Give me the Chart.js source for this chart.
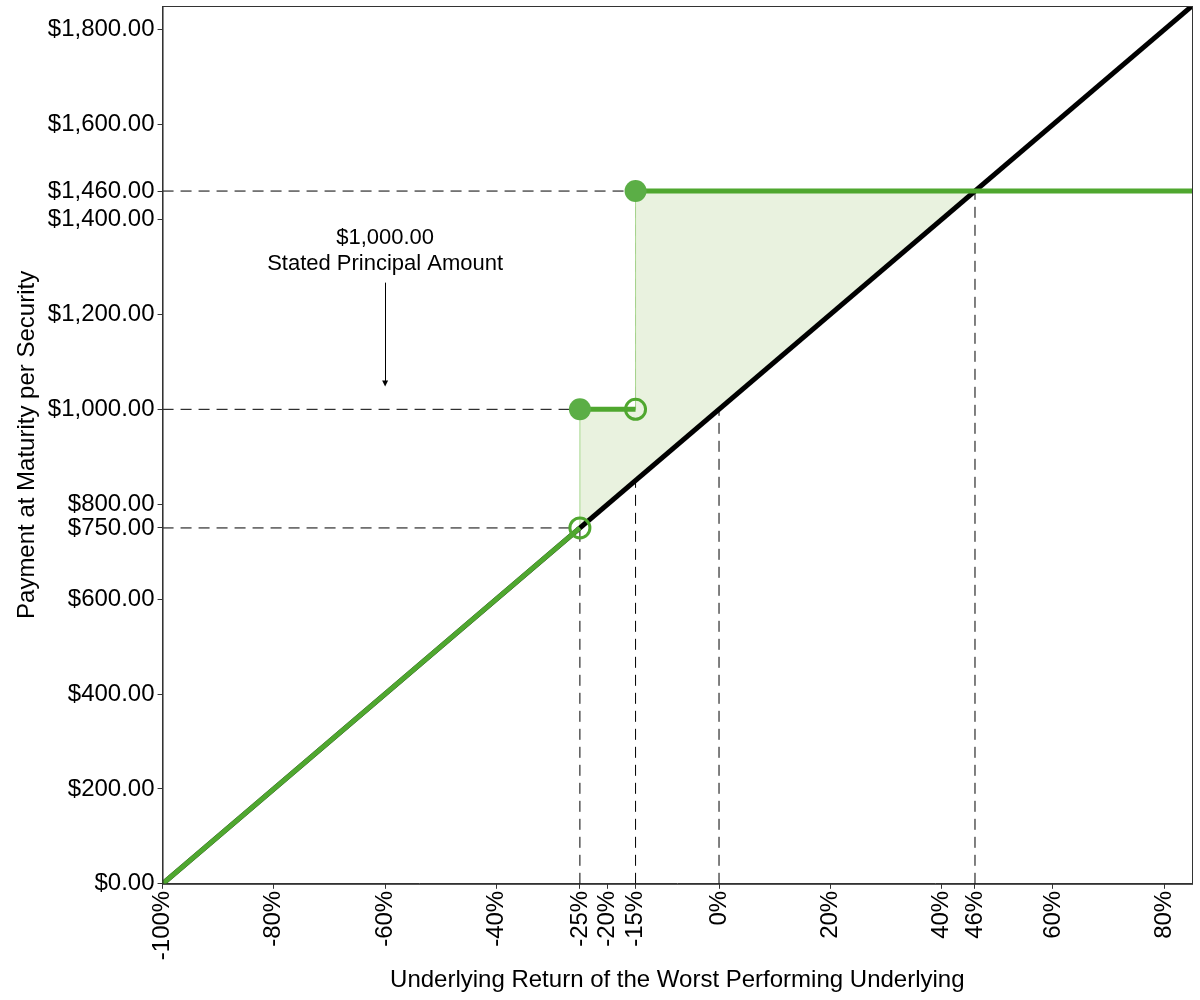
<!DOCTYPE html>
<html>
<head>
<meta charset="utf-8">
<script src="https://cdn.jsdelivr.net/npm/chart.js@4.4.1/dist/chart.umd.min.js"></script>
<style>
  html, body { margin: 0; padding: 0; background: #fff; }
  #wrap { width: 1200px; height: 1000px; }
</style>
</head>
<body>
<div id="wrap"><canvas id="payoffChart" width="1200" height="1000"></canvas></div>
<script>
// tick positions
const xTicks = [-100, -80, -60, -40, -25, -20, -15, 0, 20, 40, 46, 60, 80];
const yTicks = [0, 200, 400, 600, 750, 800, 1000, 1200, 1400, 1460, 1600, 1800];

// underlying (black) line
const underlyingX = [-100, 85];
const underlyingY = [0, 1850];

// security payoff pieces
const lowerX = [-100, -25];
const lowerY = [0, 750];
const stepX = [-25, -15];
const stepY = [1000, 1000];
const capX = [-15, 85];
const capY = [1460, 1460];

// end points
const filledX = [-25, -15];
const filledY = [1000, 1460];
const openX = [-25, -15];
const openY = [750, 1000];

// shaded outperformance area
const areaX = [-25, -25, -15, -15, 46, -25];
const areaY = [750, 1000, 1000, 1460, 1460, 750];

// dashed guides: [x1, y1, x2, y2]
const guideLines = [
  [-100, 1460, -15, 1460],
  [-100, 1000, 0, 1000],
  [-100, 750, -25, 750],
  [-25, 0, -25, 750],
  [-15, 0, -15, 1460],
  [0, 0, 0, 1000],
  [46, 0, 46, 1460]
];

// annotation
const noteX = -60;
const noteLines = ['$1,000.00', 'Stated Principal Amount'];
const noteLineY = [1362, 1307];
const arrowY = [1267, 1048];

const green = '#4fa72f';
const greenDot = '#5bae46';
const fontFamily = '"Liberation Sans", Arial, sans-serif';

function pts(xs, ys) {
  return xs.map((x, i) => ({x: x, y: ys[i]}));
}

const guideSets = guideLines.map((g) => ({
  data: [{x: g[0], y: g[1]}, {x: g[2], y: g[3]}],
  borderColor: '#000',
  borderWidth: 1,
  borderDash: [11, 7],
  pointRadius: 0,
  showLine: true,
  order: 5
}));

const frameAndNote = {
  id: 'frameAndNote',
  afterDatasetsDraw(chart) {
    const ctx = chart.ctx;
    const a = chart.chartArea;
    const xs = chart.scales.x, ys = chart.scales.y;
    ctx.save();
    ctx.strokeStyle = '#333';
    ctx.lineWidth = 1;
    ctx.strokeRect(a.left + 0.5, a.top + 0.5, a.right - a.left, a.bottom - a.top);

    const px = xs.getPixelForValue(noteX);
    ctx.fillStyle = '#000';
    ctx.font = '22px ' + fontFamily;
    ctx.textAlign = 'center';
    ctx.textBaseline = 'middle';
    noteLines.forEach((t, i) => ctx.fillText(t, px, ys.getPixelForValue(noteLineY[i])));

    const y1 = ys.getPixelForValue(arrowY[0]);
    const y2 = ys.getPixelForValue(arrowY[1]);
    ctx.strokeStyle = '#000';
    ctx.beginPath();
    ctx.moveTo(Math.round(px) + 0.5, y1);
    ctx.lineTo(Math.round(px) + 0.5, y2 - 4);
    ctx.stroke();
    ctx.beginPath();
    ctx.moveTo(px - 3, y2 - 6);
    ctx.lineTo(px + 3, y2 - 6);
    ctx.lineTo(px, y2);
    ctx.closePath();
    ctx.fill();
    ctx.restore();
  }
};

new Chart(document.getElementById('payoffChart'), {
  type: 'scatter',
  data: {
    datasets: [
      {
        data: pts(filledX, filledY),
        backgroundColor: greenDot,
        borderColor: greenDot,
        pointRadius: 11,
        pointBorderWidth: 0,
        showLine: false,
        order: 0
      },
      {
        data: pts(openX, openY),
        backgroundColor: 'rgba(0,0,0,0)',
        borderColor: green,
        pointRadius: 10,
        pointBorderWidth: 3,
        showLine: false,
        order: 0
      },
      {
        data: pts(capX, capY),
        borderColor: green,
        borderWidth: 5,
        pointRadius: 0,
        showLine: true,
        order: 1
      },
      {
        data: pts(stepX, stepY),
        borderColor: green,
        borderWidth: 5,
        pointRadius: 0,
        showLine: true,
        order: 1
      },
      {
        data: pts(lowerX, lowerY),
        borderColor: green,
        borderWidth: 5,
        pointRadius: 0,
        showLine: true,
        order: 1
      },
      {
        data: pts(underlyingX, underlyingY),
        borderColor: '#000',
        borderWidth: 5,
        pointRadius: 0,
        showLine: true,
        order: 2
      },
      {
        data: pts(areaX, areaY),
        borderColor: '#a9d88f',
        backgroundColor: '#e9f2df',
        borderWidth: 1,
        pointRadius: 0,
        showLine: true,
        fill: 'shape',
        order: 4
      },
      ...guideSets
    ]
  },
  options: {
    responsive: false,
    animation: false,
    devicePixelRatio: 1,
    layout: { autoPadding: false, padding: { top: 6, right: 8, left: 13, bottom: 5 } },
    plugins: {
      legend: { display: false },
      tooltip: { enabled: false }
    },
    scales: {
      x: {
        type: 'linear',
        min: -100,
        max: 85,
        afterBuildTicks: (axis) => { axis.ticks = xTicks.map((v) => ({value: v})); },
        afterFit: (axis) => { axis.paddingLeft = 0; axis.paddingRight = 0; },
        ticks: {
          autoSkip: false,
          minRotation: 90,
          maxRotation: 90,
          color: '#000',
          padding: 2,
          font: { family: fontFamily, size: 24 },
          callback: (v) => v + '%'
        },
        grid: { drawOnChartArea: false, drawTicks: true, tickLength: 5, color: '#333' },
        border: { color: '#333' },
        title: {
          display: true,
          text: 'Underlying Return of the Worst Performing Underlying',
          color: '#000',
          font: { family: fontFamily, size: 24 },
          padding: { top: 4, bottom: 0 }
        }
      },
      y: {
        type: 'linear',
        min: 0,
        max: 1850,
        afterBuildTicks: (axis) => { axis.ticks = yTicks.map((v) => ({value: v})); },
        afterFit: (axis) => { axis.paddingTop = 0; axis.paddingBottom = 0; },
        ticks: {
          autoSkip: false,
          color: '#000',
          padding: 3,
          font: { family: fontFamily, size: 24 },
          callback: (v) => '$' + v.toLocaleString('en-US', {minimumFractionDigits: 2, maximumFractionDigits: 2})
        },
        grid: { drawOnChartArea: false, drawTicks: true, tickLength: 5, color: '#333' },
        border: { color: '#333' },
        title: {
          display: true,
          text: 'Payment at Maturity per Security',
          color: '#000',
          font: { family: fontFamily, size: 24 },
          padding: { top: 0, bottom: 3 }
        }
      }
    }
  },
  plugins: [frameAndNote]
});
</script>
</body>
</html>
